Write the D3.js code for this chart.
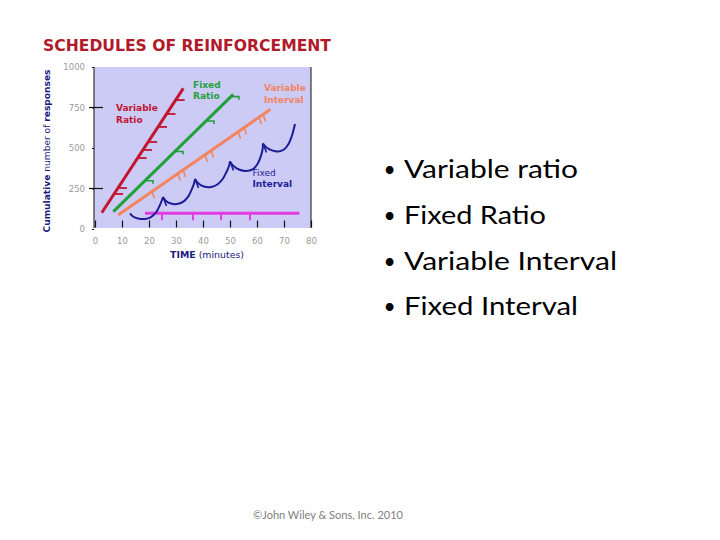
<!DOCTYPE html>
<html><head><meta charset="utf-8">
<script src="https://cdn.jsdelivr.net/npm/d3@7"></script>
<style>body{margin:0;background:#fff}</style>
</head><body>
<svg id="c" width="720" height="540" xmlns="http://www.w3.org/2000/svg"></svg>
<script>
// ---------- data ----------
const chartTitle = "SCHEDULES OF REINFORCEMENT";
const yTicks = [0, 250, 500, 750, 1000];
const yMajorTicks = [250, 750];
const xTicks = [0, 10, 20, 30, 40, 50, 60, 70, 80];
const xTitle = "TIME (minutes)";
// [minutes, cumulative responses]
const variableRatio = [[2.5, 100], [32.7, 868]];
const variableRatioMarks = [[7.06, 216], [8.52, 253], [15.79, 438], [17.76, 488], [19.68, 537], [23.34, 630], [26.49, 710], [29.87, 796]];
const fixedRatio = [[6.8, 107], [51.2, 831]];
const fixedRatioMarks = [[18.9, 304], [30.0, 485], [41.5, 673], [50.7, 823]];
const variableInterval = [[8.6, 86], [65.0, 739]];
const variableIntervalMarks = [[21.1, 231], [30.7, 342], [32.6, 364], [40.7, 458], [43.0, 484], [53.0, 600], [55.2, 626], [60.7, 692], [62.2, 709]];
const fixedIntervalScallops = [
  [[12.96, 96], [14.07, 77], [15.93, 65], [18.52, 62], [20.74, 74], [22.59, 102], [23.89, 142], [24.81, 179], [25.19, 198]],
  [[25.19, 198], [26.30, 173], [28.15, 157], [30.37, 154], [32.59, 167], [34.44, 198], [35.74, 241], [36.67, 281], [37.04, 309]],
  [[37.04, 309], [38.33, 281], [40.37, 262], [42.96, 259], [45.56, 278], [47.41, 312], [48.70, 352], [49.63, 389], [50.00, 417]],
  [[50.00, 417], [51.30, 389], [53.33, 367], [55.93, 358], [58.52, 370], [60.19, 401], [61.30, 444], [62.04, 488], [62.22, 528]],
  [[62.22, 528], [63.52, 503], [65.56, 485], [67.78, 478], [70.00, 491], [71.67, 525], [72.78, 568], [73.52, 611], [74.07, 648]]
];
const fixedIntervalMarks = [[25.19, 198], [37.04, 309], [50.0, 417], [62.22, 528]];
const flatLine = [[18.5, 97], [75.7, 97]];
const flatLineMarks = [[24.8, 97], [36.3, 97], [46.7, 97], [57.4, 97]];
const bullets = ["Variable ratio", "Fixed Ratio", "Variable Interval", "Fixed Interval"];
const bulletWidths = [174, 142, 213, 174];
const footer = "\u00A9John Wiley & Sons, Inc. 2010";

// ---------- drawing ----------
const svg = d3.select("#c");
const x = d3.scaleLinear().domain([0, 80]).range([95, 311]);
const y = d3.scaleLinear().domain([0, 1000]).range([229, 67]);
const navy = "#1a1a80";

svg.append("text").attr("x", 43).attr("y", 50.5)
  .attr("font-family", "DejaVu Sans").attr("font-weight", "bold").attr("font-size", 16)
  .attr("fill", "#b01a2a").attr("textLength", 288).attr("lengthAdjust", "spacingAndGlyphs")
  .text(chartTitle);

// plot background
svg.append("rect").attr("x", x(0) - 1).attr("y", y(1000)).attr("width", x(80) - x(0) + 1)
  .attr("height", y(0) - y(1000) - 1).attr("fill", "#cbcbf5");
svg.append("line").attr("x1", x(0) - 1).attr("x2", x(0) - 1).attr("y1", y(1000)).attr("y2", y(0) - 1)
  .attr("stroke", "#111").attr("stroke-width", 1);
svg.append("line").attr("x1", x(80)).attr("x2", x(80)).attr("y1", y(1000)).attr("y2", y(0) - 1)
  .attr("stroke", "#111").attr("stroke-width", 1);

// x axis
const xAxis = svg.append("g").attr("transform", `translate(0,${y(0) - 1.5})`)
  .call(d3.axisBottom(x).tickValues(xTicks).tickSizeInner(-7).tickSizeOuter(0).tickPadding(10).tickFormat(d3.format("d")));
xAxis.select(".domain").remove();
xAxis.selectAll("line").attr("stroke", "#111").attr("stroke-width", 1.2);
xAxis.selectAll("text").attr("font-family", "DejaVu Sans").attr("font-size", 8.5).attr("fill", "#9a9a9a");

// y axis
const yAxis = svg.append("g").attr("transform", `translate(${x(0) - 1},0)`)
  .call(d3.axisLeft(y).tickValues(yTicks).tickSize(2).tickPadding(7).tickFormat(d3.format("d")));
yAxis.select(".domain").remove();
yAxis.selectAll("line").attr("stroke", "#111");
yAxis.selectAll("text").attr("font-family", "DejaVu Sans").attr("font-size", 8.5).attr("fill", "#9a9a9a");
svg.selectAll(".ymaj").data(yMajorTicks).join("line")
  .attr("x1", x(0) - 6).attr("x2", x(0) + 8).attr("y1", d => y(d)).attr("y2", d => y(d))
  .attr("stroke", "#111").attr("stroke-width", 1.2);

// axis titles
const yt = svg.append("text").attr("transform", `translate(50,${(y(0) + y(1000)) / 2 + 3}) rotate(-90)`)
  .attr("text-anchor", "middle").attr("font-family", "DejaVu Sans").attr("font-size", 8.5)
  .attr("fill", navy).attr("textLength", 163).attr("lengthAdjust", "spacingAndGlyphs");
yt.append("tspan").attr("font-weight", "bold").text("Cumulative");
yt.append("tspan").text(" number of ");
yt.append("tspan").attr("font-weight", "bold").text("responses");

const xt = svg.append("text").attr("x", 207).attr("y", 258).attr("text-anchor", "middle")
  .attr("font-family", "DejaVu Sans").attr("font-size", 9).attr("fill", navy)
  .attr("textLength", 74).attr("lengthAdjust", "spacingAndGlyphs");
xt.append("tspan").attr("font-weight", "bold").text(xTitle.split(" ")[0]);
xt.append("tspan").text(" " + xTitle.split(" ")[1]);

const line = d3.line().x(d => x(d[0])).y(d => y(d[1]));
const curve = d3.line().x(d => x(d[0])).y(d => y(d[1])).curve(d3.curveCatmullRom.alpha(0.5));

const red = "#c21530", green = "#22a03a", orange = "#f4845f", blue = "#1c1c98", magenta = "#e03ce0";

// variable ratio
svg.append("path").attr("d", line(variableRatio)).attr("stroke", red).attr("stroke-width", 3).attr("fill", "none");
svg.selectAll(".vrm").data(variableRatioMarks).join("line")
  .attr("x1", d => x(d[0])).attr("x2", d => x(d[0]) + 9).attr("y1", d => y(d[1])).attr("y2", d => y(d[1]))
  .attr("stroke", red).attr("stroke-width", 1.8);

// fixed ratio
svg.append("path").attr("d", line(fixedRatio)).attr("stroke", green).attr("stroke-width", 3).attr("fill", "none");
svg.selectAll(".frm").data(fixedRatioMarks).join("path")
  .attr("d", d => `M${x(d[0])},${y(d[1]) + 1}h7v3`)
  .attr("stroke", green).attr("stroke-width", 1.6).attr("fill", "none");

// variable interval
svg.append("path").attr("d", line(variableInterval)).attr("stroke", orange).attr("stroke-width", 3).attr("fill", "none");
svg.selectAll(".vim").data(variableIntervalMarks).join("line")
  .attr("x1", d => x(d[0])).attr("x2", d => x(d[0]) + 2.5).attr("y1", d => y(d[1])).attr("y2", d => y(d[1]) + 7)
  .attr("stroke", orange).attr("stroke-width", 1.6);

// flat line
svg.append("path").attr("d", line(flatLine)).attr("stroke", magenta).attr("stroke-width", 3).attr("fill", "none");
svg.selectAll(".flm").data(flatLineMarks).join("line")
  .attr("x1", d => x(d[0])).attr("x2", d => x(d[0])).attr("y1", d => y(d[1])).attr("y2", d => y(d[1]) + 7)
  .attr("stroke", magenta).attr("stroke-width", 2);

// fixed interval
svg.selectAll(".fis").data(fixedIntervalScallops).join("path")
  .attr("d", d => curve(d)).attr("stroke", blue).attr("stroke-width", 2).attr("fill", "none");
svg.selectAll(".fim").data(fixedIntervalMarks).join("line")
  .attr("x1", d => x(d[0])).attr("x2", d => x(d[0]) + 3.5).attr("y1", d => y(d[1])).attr("y2", d => y(d[1]) + 9)
  .attr("stroke", blue).attr("stroke-width", 1.6);

// in-chart labels
function label(px, py, lines, color, weights) {
  const t = svg.append("text").attr("font-family", "DejaVu Sans").attr("font-size", 9).attr("fill", color);
  lines.forEach((s, i) => t.append("tspan").attr("x", px).attr("y", py + i * 11.5)
    .attr("dominant-baseline", "central").attr("font-weight", weights[i]).text(s));
}
label(116, 108, ["Variable", "Ratio"], red, ["bold", "bold"]);
label(193, 84.5, ["Fixed", "Ratio"], green, ["bold", "bold"]);
label(264, 88, ["Variable", "Interval"], orange, ["bold", "bold"]);
label(252.5, 172.5, ["Fixed", "Interval"], blue, ["normal", "bold"]);

// bullet list
bullets.forEach((b, i) => {
  const by = 178 + i * 45.8;
  svg.append("text").attr("x", 383.5).attr("y", by - 1).attr("font-family", "Lato").attr("font-size", 21)
    .attr("fill", "#000").text("\u2022");
  svg.append("text").attr("x", 404).attr("y", by).attr("font-family", "Lato").attr("font-size", 25)
    .attr("fill", "#000").attr("textLength", bulletWidths[i]).attr("lengthAdjust", "spacingAndGlyphs").text(b);
});

svg.append("text").attr("x", 328).attr("y", 519).attr("text-anchor", "middle")
  .attr("font-family", "Lato").attr("font-size", 11).attr("fill", "#808080")
  .attr("textLength", 150).attr("lengthAdjust", "spacingAndGlyphs").text(footer);
</script>
</body></html>
